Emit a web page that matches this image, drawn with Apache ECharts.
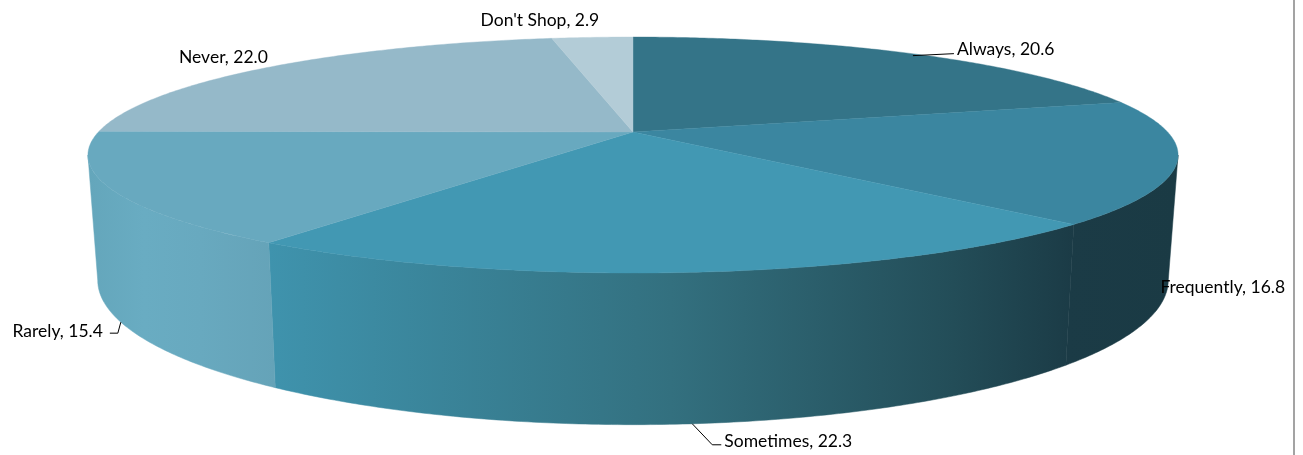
<!DOCTYPE html>
<html>
<head>
<meta charset="utf-8">
<style>html,body{margin:0;padding:0;background:#fff}#c{width:1303px;height:455px}</style>
<script src="https://cdn.jsdelivr.net/npm/echarts@6/dist/echarts.min.js"></script>
</head>
<body>
<div id="c"></div>
<script>
var categories = ["Always", "Frequently", "Sometimes", "Rarely", "Never", "Don't Shop"];
var values = [20.6, 16.8, 22.3, 15.4, 22.0, 2.9];
var topColors = ['#347488', '#3b86a0', '#4298b3', '#68a9bf', '#95b9c9', '#b3ccd7'];
var sideStops = [
  [[0, '#347488'], [1, '#347488']],
  [[0, '#1b3b46'], [1, '#1a3a44']],
  [[0, '#3f93ad'], [0.5, '#33707f'], [0.85, '#234d58'], [1, '#1b3b46']],
  [[0, '#64a6bb'], [0.3, '#69acc2'], [0.6, '#68a9bf'], [1, '#65a3b8']],
  [[0, '#95b9c9'], [1, '#95b9c9']],
  [[0, '#b3ccd7'], [1, '#b3ccd7']]
];
// label placement relative to the slice's rim anchor: nudge of the anchor, text offset, alignment, leader elbow
var labelLayout = [
  {rim: 'top', nudge: [1, 2], dx: 44, dy: -6, align: 'left', leader: [[41, -2]]},
  {rim: 'bottom', nudge: [0, 0], dx: -7, dy: -1, align: 'left', leader: null},
  {rim: 'bottom', nudge: [0, 0], dx: 32, dy: 18, align: 'left', leader: [[20, 21], [29, 21]]},
  {rim: 'bottom', nudge: [0, 0], dx: -18, dy: 9, align: 'right', leader: [[-3, 11], [-11, 11]]},
  {rim: 'top', nudge: [0, 0], dx: -1, dy: -10, align: 'right', leader: null},
  {rim: 'top', nudge: [0, 0], dx: 7, dy: -17, align: 'right', leader: null}
];
// projection of the disc: a circle seen in perspective
var persp = 0.195, cx = 633;
var topRim = {cy: 132, a: 534.6, b: 113.5};
var bottomRim = {cy: 252, a: 525, b: 139};
var tangent = Math.asin(persp);
var visibleFrom = Math.PI / 2 + tangent, visibleTo = 3 * Math.PI / 2 - tangent;

function project(rim, t) {
  var u = Math.sin(t), v = -Math.cos(t), w = 1 - persp * v;
  return [cx + rim.a * u / w, rim.cy + rim.b * v / w];
}
function arc(rim, t0, t1) {
  var n = Math.max(2, Math.ceil(Math.abs(t1 - t0) / 0.01)), pts = [];
  for (var i = 0; i <= n; i++) pts.push(project(rim, t0 + (t1 - t0) * i / n));
  return pts;
}
var total = values.reduce(function (a, b) { return a + b; }, 0);
var seriesData = values.map(function (v, i) { return {name: categories[i], value: v}; });

function renderItem(params, api) {
  var i = params.dataIndex, before = 0;
  for (var k = 0; k < i; k++) before += values[k];
  var t0 = before / total * 2 * Math.PI;
  var t1 = (before + api.value(0)) / total * 2 * Math.PI;
  var children = [];

  var from = Math.max(t0, visibleFrom), to = Math.min(t1, visibleTo);
  if (to > from) {
    var upper = arc(topRim, from, to), lower = arc(bottomRim, to, from);
    var xs = upper.concat(lower).map(function (p) { return p[0]; });
    var minX = Math.min.apply(null, xs), maxX = Math.max.apply(null, xs);
    var stops = sideStops[i].map(function (s) { return {offset: s[0], color: s[1]}; });
    var grad = new echarts.graphic.LinearGradient(minX, 0, maxX, 0, stops, true);
    children.push({type: 'polygon', z2: 1, shape: {points: upper.concat(lower)},
      style: {fill: grad, stroke: grad, lineWidth: 0.5}});
  }
  children.push({type: 'polygon', z2: 2, shape: {points: [[cx, topRim.cy]].concat(arc(topRim, t0, t1))},
    style: {fill: topColors[i], stroke: topColors[i], lineWidth: 0.4}});

  var layout = labelLayout[i];
  var rimPoint = project(layout.rim === 'top' ? topRim : bottomRim, (t0 + t1) / 2);
  var anchor = [rimPoint[0] + layout.nudge[0], rimPoint[1] + layout.nudge[1]];
  if (layout.leader) {
    var pts = [anchor].concat(layout.leader.map(function (o) { return [anchor[0] + o[0], anchor[1] + o[1]]; }));
    children.push({type: 'polyline', z2: 3, shape: {points: pts},
      style: {fill: null, stroke: '#000', lineWidth: 1}});
  }
  children.push({type: 'text', z2: 4, style: {
    x: anchor[0] + layout.dx, y: anchor[1] + layout.dy,
    text: categories[i] + ', ' + api.value(0).toFixed(1),
    fill: '#000', font: '17.5px Lato', textAlign: layout.align, textVerticalAlign: 'middle'
  }});
  return {type: 'group', children: children};
}

var chart = echarts.init(document.getElementById('c'), null, {renderer: 'canvas'});
chart.setOption({
  animation: false,
  backgroundColor: '#fff',
  graphic: [{type: 'rect', silent: true, shape: {x: 1293, y: 0, width: 2, height: 455}, style: {fill: '#a3a3a3'}}],
  series: [{type: 'custom', coordinateSystem: 'none', silent: true, renderItem: renderItem, data: seriesData, clip: false}]
});
</script>
</body>
</html>
